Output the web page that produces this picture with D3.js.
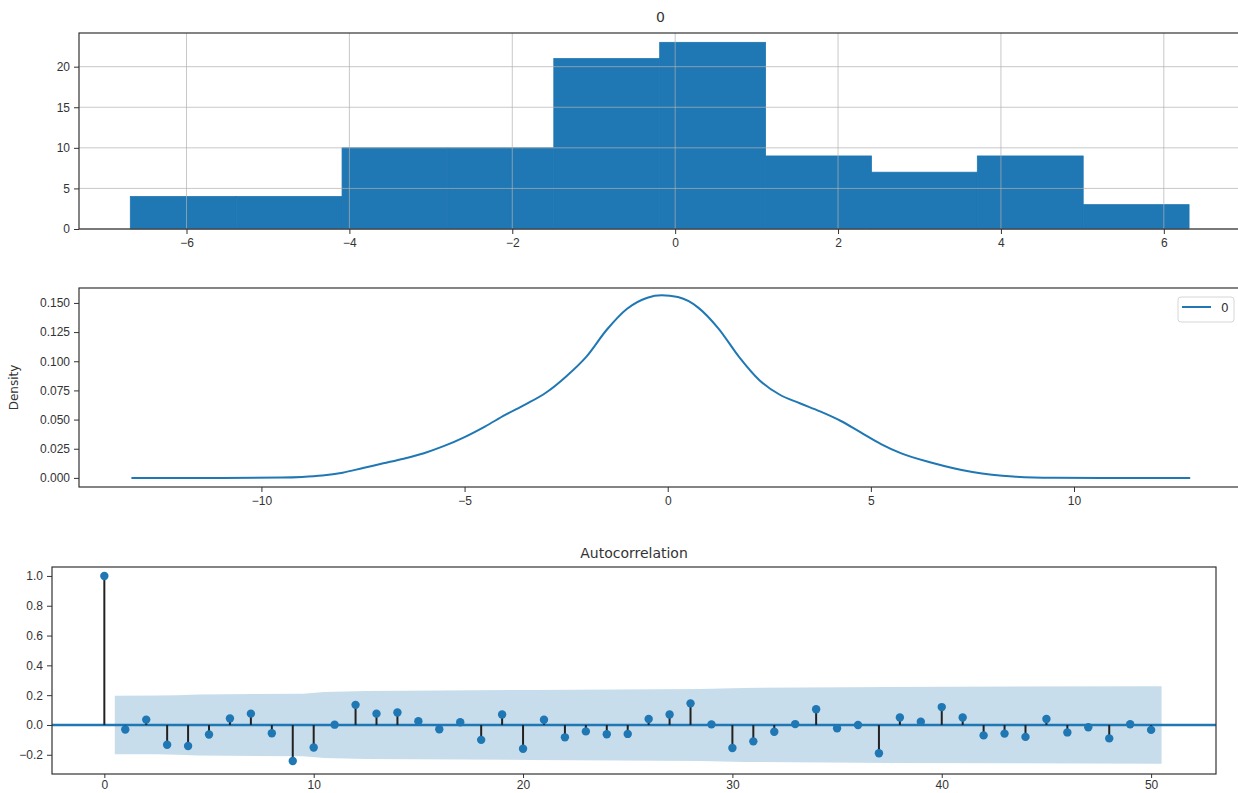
<!DOCTYPE html>
<html>
<head>
<meta charset="utf-8">
<script src="https://cdn.jsdelivr.net/npm/d3@7"></script>
<style>
  body { margin: 0; background: #fff; }
  svg { display: block; font-family: "DejaVu Sans", sans-serif; }
  .tick text { font-size: 12px; fill: #333; }
  .tick line { stroke: #333; }
  .frame { fill: none; stroke: #333; stroke-width: 1.2; }
  .grid line { stroke: #b0b0b0; stroke-opacity: 0.7; }
</style>
</head>
<body>
<div class="wrapper"></div>
<script>
// histogram of column "0"
const binEdges = [-6.69, -5.39, -4.09, -2.79, -1.49, -0.19, 1.11, 2.41, 3.71, 5.01, 6.31]
const binCounts = [4, 4, 10, 10, 21, 23, 9, 7, 9, 3]
const histXTicks = [-6, -4, -2, 0, 2, 4, 6]
const histYTicks = [0, 5, 10, 15, 20]

// kde curve
const kdeX = [-13.2, -11, -9.5, -9.0, -8.5, -8.0, -7.5, -7.0, -6.5, -6.0, -5.5, -5.0, -4.5, -4.0, -3.5, -3.0, -2.5, -2.0, -1.5, -1.0, -0.5, -0.15, 0.25, 0.75, 1.25, 1.75, 2.25, 2.75, 3.25, 3.75, 4.25, 4.75, 5.25, 5.75, 6.5, 7.5, 8.5, 9.5, 11, 12.86]
const kdeY = [0, 0, 0.0003, 0.0008, 0.002, 0.0045, 0.0085, 0.0125, 0.0165, 0.0212, 0.0274, 0.035, 0.044, 0.054, 0.063, 0.073, 0.087, 0.104, 0.127, 0.145, 0.1545, 0.1565, 0.155, 0.146, 0.128, 0.104, 0.084, 0.0715, 0.064, 0.057, 0.049, 0.039, 0.029, 0.021, 0.013, 0.005, 0.0012, 0.0002, 0, 0]
const kdeXTicks = [-10, -5, 0, 5, 10]
const kdeYTicks = [0, 0.025, 0.05, 0.075, 0.1, 0.125, 0.15]

// autocorrelation, lags 0..50
const acfValues = [1.0, -0.03, 0.036, -0.133, -0.141, -0.064, 0.044, 0.076, -0.056, -0.242,
  -0.151, 0.002, 0.135, 0.076, 0.084, 0.025, -0.029, 0.018, -0.1, 0.07,
  -0.16, 0.035, -0.083, -0.043, -0.062, -0.06, 0.04, 0.07, 0.145, 0.004,
  -0.155, -0.11, -0.045, 0.006, 0.105, -0.022, 0.0, -0.19, 0.05, 0.022,
  0.12, 0.05, -0.07, -0.058, -0.08, 0.04, -0.05, -0.015, -0.09, 0.005, -0.033]
// half width of confidence band, read at a few lags
const bandLags = [0.5, 2.5, 3.5, 4.5, 9.5, 10.5, 12.5, 20.5, 28.5, 30.5, 37.5, 50.5]
const bandHalf = [0.196, 0.197, 0.2, 0.205, 0.21, 0.222, 0.228, 0.235, 0.242, 0.248, 0.255, 0.26]
const acfXTicks = [0, 10, 20, 30, 40, 50]
const acfYTicks = [-0.2, 0, 0.2, 0.4, 0.6, 0.8, 1.0]

const blue = "#1f77b4"

const svg = d3.select(".wrapper")
  .append("svg")
    .attr("width", 1238)
    .attr("height", 793)

// ---------- panel 1: histogram ----------
let dimHist = { left: 79, right: 1242, top: 33, bottom: 229 }

const xHist = d3.scaleLinear()
  .domain([-7.32, 6.96])
  .range([dimHist.left, dimHist.right])
const yHist = d3.scaleLinear()
  .domain([0, 24.15])
  .range([dimHist.bottom, dimHist.top])

const bins = binCounts.map((c, i) => ({ x0: binEdges[i], x1: binEdges[i + 1], n: c }))

svg.append("g")
  .selectAll("rect")
  .data(bins)
  .join("rect")
    .attr("x", d => xHist(d.x0))
    .attr("width", d => xHist(d.x1) - xHist(d.x0))
    .attr("y", d => yHist(d.n))
    .attr("height", d => yHist(0) - yHist(d.n))
    .attr("fill", blue)
    .attr("stroke", blue)
    .attr("stroke-width", 0.8)

// grid sits on top of the bars
const histGrid = svg.append("g").attr("class", "grid")
histGrid.selectAll("line.v")
  .data(histXTicks)
  .join("line")
    .attr("class", "v")
    .attr("x1", d => xHist(d)).attr("x2", d => xHist(d))
    .attr("y1", dimHist.top).attr("y2", dimHist.bottom)
histGrid.selectAll("line.h")
  .data(histYTicks)
  .join("line")
    .attr("class", "h")
    .attr("x1", dimHist.left).attr("x2", dimHist.right)
    .attr("y1", d => yHist(d)).attr("y2", d => yHist(d))

svg.append("g")
  .attr("transform", `translate(0, ${dimHist.bottom})`)
  .call(d3.axisBottom(xHist).tickValues(histXTicks).tickSize(5).tickPadding(4))
  .call(g => g.select(".domain").remove())
svg.append("g")
  .attr("transform", `translate(${dimHist.left}, 0)`)
  .call(d3.axisLeft(yHist).tickValues(histYTicks).tickSize(5).tickPadding(4))
  .call(g => g.select(".domain").remove())

svg.append("rect")
  .attr("class", "frame")
  .attr("x", dimHist.left).attr("y", dimHist.top)
  .attr("width", dimHist.right - dimHist.left)
  .attr("height", dimHist.bottom - dimHist.top)

svg.append("text")
  .attr("x", (dimHist.left + dimHist.right) / 2)
  .attr("y", 22)
  .attr("text-anchor", "middle")
  .style("font-size", "14px")
  .attr("fill", "#333")
  .text("0")

// ---------- panel 2: density ----------
let dimKde = { left: 79, right: 1241, top: 288, bottom: 487 }

const xKde = d3.scaleLinear()
  .domain([-14.49, 14.11])
  .range([dimKde.left, dimKde.right])
const yKde = d3.scaleLinear()
  .domain([-0.0078, 0.1628])
  .range([dimKde.bottom, dimKde.top])

const kdePoints = kdeX.map((x, i) => [x, kdeY[i]])

svg.append("path")
  .datum(kdePoints)
  .attr("d", d3.line()
    .x(d => xKde(d[0]))
    .y(d => yKde(d[1]))
    .curve(d3.curveMonotoneX))
  .attr("fill", "none")
  .attr("stroke", blue)
  .attr("stroke-width", 2)

svg.append("g")
  .attr("transform", `translate(0, ${dimKde.bottom})`)
  .call(d3.axisBottom(xKde).tickValues(kdeXTicks).tickSize(5).tickPadding(4))
  .call(g => g.select(".domain").remove())
svg.append("g")
  .attr("transform", `translate(${dimKde.left}, 0)`)
  .call(d3.axisLeft(yKde).tickValues(kdeYTicks).tickFormat(d3.format(".3f")).tickSize(5).tickPadding(4))
  .call(g => g.select(".domain").remove())

svg.append("rect")
  .attr("class", "frame")
  .attr("x", dimKde.left).attr("y", dimKde.top)
  .attr("width", dimKde.right - dimKde.left)
  .attr("height", dimKde.bottom - dimKde.top)

svg.append("text")
  .attr("transform", `translate(18, ${(dimKde.top + dimKde.bottom) / 2}) rotate(-90)`)
  .attr("text-anchor", "middle")
  .style("font-size", "12px")
  .attr("fill", "#333")
  .text("Density")

// legend
const legend = svg.append("g").attr("transform", "translate(1178, 297)")
legend.append("rect")
  .attr("width", 56).attr("height", 25).attr("rx", 3)
  .attr("fill", "#fff").attr("stroke", "#d6d6d6")
legend.append("line")
  .attr("x1", 4).attr("x2", 33).attr("y1", 10).attr("y2", 10)
  .attr("stroke", blue).attr("stroke-width", 2)
legend.append("text")
  .attr("x", 43).attr("y", 15)
  .style("font-size", "12px")
  .attr("fill", "#333")
  .text("0")

// ---------- panel 3: autocorrelation ----------
let dimAcf = { left: 52, right: 1216, top: 567, bottom: 774 }

const xAcf = d3.scaleLinear()
  .domain([-2.5, 53.1])
  .range([dimAcf.left, dimAcf.right])
const yAcf = d3.scaleLinear()
  .domain([-0.329, 1.06])
  .range([dimAcf.bottom, dimAcf.top])

const band = bandLags.map((l, i) => ({ lag: l, h: bandHalf[i] }))
svg.append("path")
  .datum(band)
  .attr("d", d3.area()
    .x(d => xAcf(d.lag))
    .y0(d => yAcf(-d.h))
    .y1(d => yAcf(d.h)))
  .attr("fill", blue)
  .attr("fill-opacity", 0.25)

svg.append("line")
  .attr("x1", dimAcf.left).attr("x2", dimAcf.right)
  .attr("y1", yAcf(0)).attr("y2", yAcf(0))
  .attr("stroke", blue)
  .attr("stroke-width", 2.5)

const acf = acfValues.map((v, i) => ({ lag: i, v: v }))

svg.append("g")
  .selectAll("line")
  .data(acf)
  .join("line")
    .attr("x1", d => xAcf(d.lag))
    .attr("x2", d => xAcf(d.lag))
    .attr("y1", yAcf(0))
    .attr("y2", d => yAcf(d.v))
    .attr("stroke", "#222")
    .attr("stroke-width", 2)

svg.append("g")
  .selectAll("circle")
  .data(acf)
  .join("circle")
    .attr("cx", d => xAcf(d.lag))
    .attr("cy", d => yAcf(d.v))
    .attr("r", 4.2)
    .attr("fill", blue)

svg.append("g")
  .attr("transform", `translate(0, ${dimAcf.bottom})`)
  .call(d3.axisBottom(xAcf).tickValues(acfXTicks).tickSize(4).tickPadding(2))
  .call(g => g.select(".domain").remove())
svg.append("g")
  .attr("transform", `translate(${dimAcf.left}, 0)`)
  .call(d3.axisLeft(yAcf).tickValues(acfYTicks).tickFormat(d3.format(".1f")).tickSize(5).tickPadding(4))
  .call(g => g.select(".domain").remove())

svg.append("rect")
  .attr("class", "frame")
  .attr("x", dimAcf.left).attr("y", dimAcf.top)
  .attr("width", dimAcf.right - dimAcf.left)
  .attr("height", dimAcf.bottom - dimAcf.top)

svg.append("text")
  .attr("x", (dimAcf.left + dimAcf.right) / 2)
  .attr("y", 558)
  .attr("text-anchor", "middle")
  .style("font-size", "14px")
  .attr("fill", "#333")
  .text("Autocorrelation")
</script>
</body>
</html>
